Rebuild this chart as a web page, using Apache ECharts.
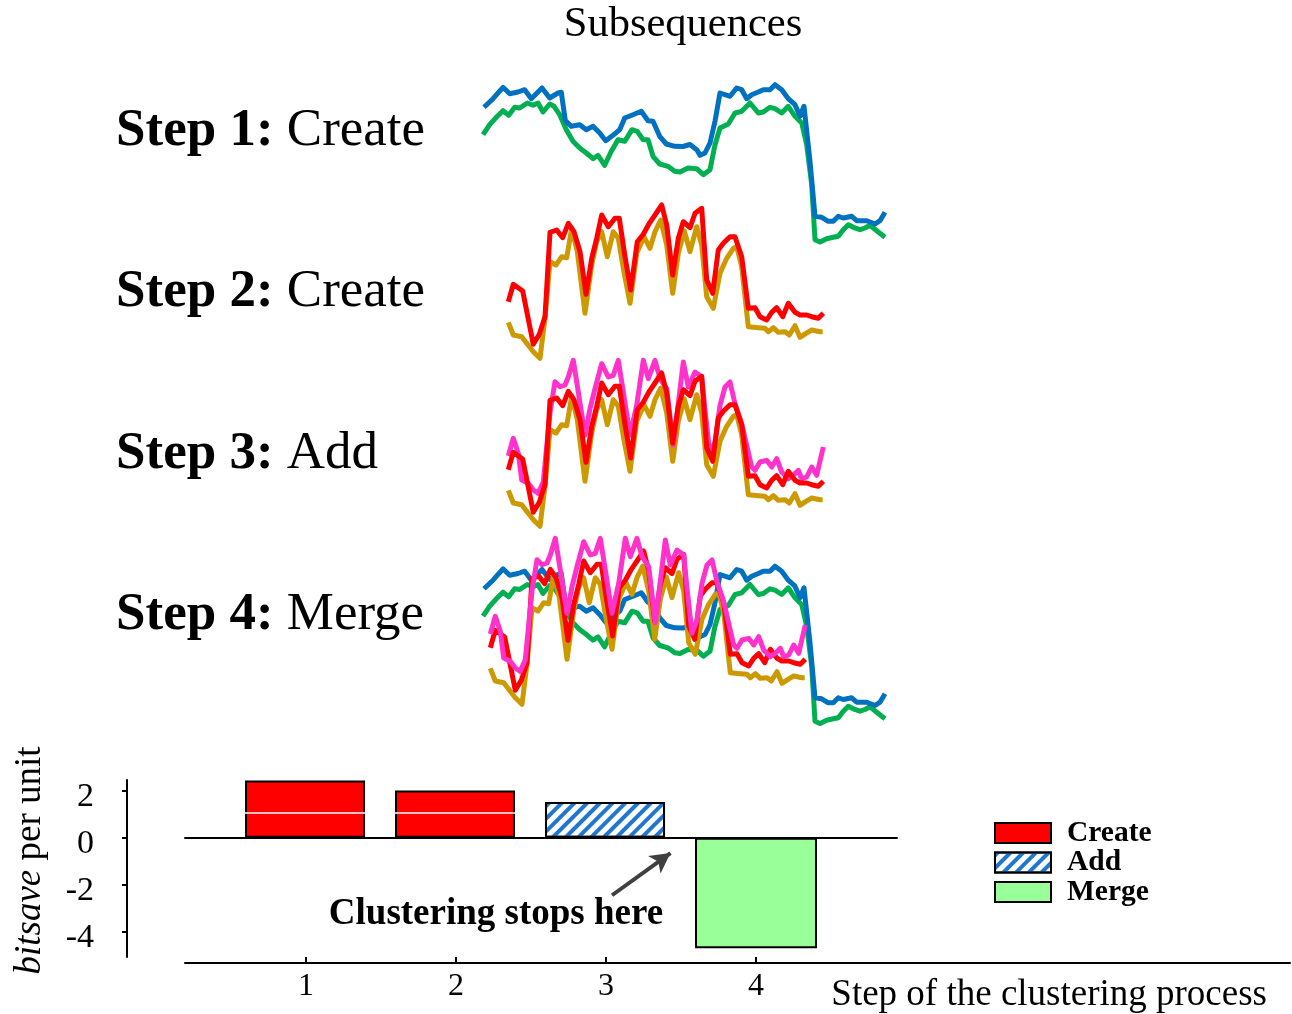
<!DOCTYPE html>
<html>
<head>
<meta charset="utf-8">
<script src="https://cdn.jsdelivr.net/npm/echarts@6/dist/echarts.min.js"></script>
<style>
  html, body { margin: 0; padding: 0; background: #ffffff; }
  #chart { width: 1292px; height: 1014px; }
</style>
</head>
<body>
<div id="chart"></div>
<script>
const SERIF = '"Liberation Serif", "Times New Roman", serif';

// ---- Subsequence shapes: [sample position, amplitude] ----
const blueSeq = [[0,142.7],[9,151.3],[19,162.7],[25.7,156.3],[34,158],[40.7,160.3],[47.3,151.3],[58,162],[65.7,152],[74,157],[77.3,157.7],[81.3,129.3],[87.3,123.7],[95.7,125.3],[102.3,120.3],[109,123.7],[115.7,117],[121.7,109.3],[129,114.7],[135.7,120.3],[140.7,132],[149,135.3],[157.3,138.7],[164,129.3],[169,128.7],[175.7,113.7],[182.3,106],[190.7,103.7],[199,103.5],[206,105.5],[213,100],[216,94.7],[221,97],[226,107],[231,128.7],[236,157],[246,153.7],[252.7,162],[257.7,160.3],[262.7,151.3],[267.7,155.3],[274.3,158],[279.3,160.3],[286,160.3],[291,165.3],[297.7,160.3],[304.3,151.3],[311,145.3],[316,133.7],[320,143.7],[326,88.7],[331,33.7],[337.7,32.7],[344.3,28.7],[349.3,28.7],[354.3,33.7],[359.3,32],[367.7,33.7],[372.7,29.3],[382.7,29.3],[391,26],[396,29.3],[401,37.7]];

const greenSeq = [[-1,115.3],[5.7,125.3],[12.3,132.7],[19,139.3],[24.7,134.7],[30.7,142.7],[35.7,142],[43.3,147],[49,144.7],[54,147],[59,138],[65.7,146],[70,143.7],[75.7,135.3],[82.3,120.3],[89,108.7],[95.7,102],[102.3,97],[109,91.3],[114,94.7],[120.7,84.7],[127.3,98.7],[134,110.3],[140.7,108.7],[148,120.3],[153.3,118.7],[159,110.3],[164,110.3],[169,93.7],[175.7,86],[184,83.7],[190.7,78.7],[196,78],[204,82],[212.7,81.3],[219.3,75.3],[226,80.3],[231,105.3],[236,122],[244.3,126],[251,137],[257.7,138.7],[266,147],[274.3,137],[279.3,138],[286,142.7],[291,141.3],[297.7,137],[304.3,143.7],[311,133.7],[317.7,127],[322.7,105.3],[327.7,65.3],[331,10.3],[336,8],[342.7,11.3],[349.3,12.7],[354.3,13.7],[359.3,20.3],[364.3,25.3],[369.3,22.7],[376,20.3],[381,22],[386,24.7],[392.7,19.3],[401,12.7]];

const redSeq = [[0.3,58.3],[5.3,75.7],[14.7,69],[25.3,15.7],[31.3,25.7],[37,43.3],[42,127.7],[48.7,130],[54.7,122.3],[60.3,136.7],[66,128.3],[72,108.3],[78,65.7],[83.7,101.7],[88.7,121.7],[93.7,145],[100.3,133.3],[107,141.7],[111.3,141.7],[117,103.3],[122.7,70],[129.3,118.3],[135.3,125.7],[141.3,136.7],[147,145],[153.7,155],[158.7,135],[164.7,85],[170.3,121.7],[175.3,138.3],[182,132.3],[187,146.7],[193.7,151.7],[198.7,80],[204.7,66.7],[210.3,110],[215.3,116.7],[222,123.3],[227,123.3],[233.7,103.3],[240.3,51.7],[247,52.3],[252,43.3],[258.7,40],[263.7,47.7],[268.7,52.3],[274.7,43.3],[280.3,56.7],[287,47.7],[292,45],[298.7,45],[303.7,43.3],[310.3,41.7],[315.3,46.7]];

const goldSeq = [[0.3,37.7],[5.3,25],[13.7,23.3],[18.7,16.7],[25.3,8.3],[32,1.7],[37,41.7],[42,98.3],[48,95],[53.7,103.3],[58.7,102.3],[63.7,131.7],[69.3,108.3],[77,46.7],[83.7,95],[88.7,118.3],[93.7,128.3],[99.3,103.3],[105.3,128.3],[110.3,121.7],[115.3,91.7],[122,56.7],[128.7,106.7],[136,123.3],[142,111.7],[147,128.3],[152.7,140],[158.7,115],[164.7,66.7],[170.3,106.7],[176.3,129],[182,108.3],[188.7,133.3],[193.7,115],[198.7,63.3],[205.3,51.7],[212,86.7],[218.7,101.7],[225.3,111.7],[228.7,113.3],[233.7,93.3],[240.3,33.3],[250.3,32.3],[257,31.7],[260.3,28.3],[265.3,32.3],[270.3,27.7],[277,28.3],[281.3,25],[287,34.3],[292,22.7],[298,26.7],[303.7,30],[312,28.3],[314.7,28.3]];

const pinkSeq = [[0.3,72],[5.3,89.7],[10.3,74.7],[13.7,48],[20.3,44.7],[25.3,38],[30.3,34.7],[35.3,46.3],[42,115.3],[47,146.3],[52,141.3],[57,143],[60.3,151],[65.3,167.7],[70.3,136],[77,92.7],[82,119.3],[87,139.3],[93.7,164.3],[100.3,151],[105.3,152.7],[110.3,167.7],[115.3,136],[122,92.7],[128.7,122.7],[135.3,167.7],[140.3,149.3],[147,167.7],[152,149.3],[158.7,139.3],[165.3,83],[175.3,166],[180.3,141],[187,156],[193.7,151],[197,118],[202,72.7],[207,86],[212,122.7],[217,141],[222,146],[227,124.3],[233.7,104.3],[238.7,82.7],[243.7,61],[247,57.7],[252,66],[258.7,67.7],[263.7,61],[268.7,69.3],[273.7,56],[277,52.7],[280.3,49.3],[285.3,52.7],[290.3,57.7],[293.7,49.3],[298.7,51],[303.7,61],[308.7,52.7],[315.3,81]];

// ---- Step captions ----
const stepNumbers = ['Step 1:', 'Step 2:', 'Step 3:', 'Step 4:'];
const stepActions = ['Create', 'Create', 'Add', 'Merge'];

// ---- bitsave per unit for each clustering step ----
const stepIndex = [1, 2, 3, 4];
const bitsave = [2.43, 2.0, 1.52, -4.69];
const stepKind = ['Create', 'Create', 'Add', 'Merge'];
const axisTicksY = [-4, -2, 0, 2];

const COLORS = {
  blue: '#0070c0', green: '#00b050', red: '#ff0000', gold: '#cc9900', pink: '#ff33cc',
  create: '#ff0000', add: '#1f77d0', merge: '#99ff99'
};

function seqLine(name, data, color, xi, yi, z) {
  return {
    type: 'line', name, data, xAxisIndex: xi, yAxisIndex: yi,
    symbol: 'none', silent: true, clip: false, z,
    lineStyle: { color, width: 5, join: 'round' },
    itemStyle: { color }
  };
}

function barsOf(kind) {
  return stepIndex.map((s, i) => stepKind[i] === kind ? [s, bitsave[i]] : null).filter(Boolean);
}

function hiddenAxis(gridIndex, min, max) {
  return { type: 'value', show: false, gridIndex, min, max, scale: true };
}

const option = {
  backgroundColor: '#ffffff',
  animation: false,
  grid: [
    { left: 470, top: 60, width: 430, height: 200 },
    { left: 470, top: 195, width: 430, height: 200 },
    { left: 470, top: 355, width: 430, height: 200 },
    { left: 470, top: 530, width: 430, height: 210 },
    { left: 185, top: 780, width: 712, height: 177 },
    { left: 185, top: 780, width: 1105, height: 183 }
  ],
  xAxis: [
    hiddenAxis(0, -14, 416),
    hiddenAxis(1, -38, 392),
    hiddenAxis(2, -38, 392),
    hiddenAxis(3, -14, 416),
    hiddenAxis(3, -20, 410),
    {
      type: 'value', gridIndex: 4, min: 0.193, max: 4.94,
      axisLine: { show: true, onZero: true, lineStyle: { color: '#000', width: 2 } },
      axisTick: { show: false }, axisLabel: { show: false }, splitLine: { show: false }
    },
    {
      type: 'value', gridIndex: 5, min: 0.193, max: 7.56, position: 'bottom',
      axisLine: { show: true, onZero: false, lineStyle: { color: '#000', width: 2 } },
      axisTick: { show: true, inside: true, length: 6, customValues: stepIndex, lineStyle: { color: '#000', width: 2 } },
      axisLabel: { customValues: stepIndex, fontSize: 32, fontFamily: SERIF, color: '#000', margin: 8 },
      splitLine: { show: false },
      name: 'Step of the clustering process', nameLocation: 'end', nameGap: -23,
      nameTextStyle: { fontSize: 37, fontFamily: SERIF, color: '#000', align: 'right', verticalAlign: 'top', padding: [14, 0, 0, 0] }
    }
  ],
  yAxis: [
    hiddenAxis(0, -10, 190),
    hiddenAxis(1, -35, 165),
    hiddenAxis(2, -27, 173),
    hiddenAxis(3, -8.5, 201.5),
    hiddenAxis(3, -34, 176),
    {
      type: 'value', gridIndex: 4, min: -5.06, max: 2.45, position: 'left', offset: 58,
      axisLine: { show: true, onZero: false, lineStyle: { color: '#000', width: 2 } },
      axisTick: { show: true, length: 5, customValues: axisTicksY, lineStyle: { color: '#000', width: 2 } },
      axisLabel: {
        customValues: axisTicksY, margin: 33,
        formatter: (v) => '{v|' + v + '}',
        rich: { v: { fontSize: 34, fontFamily: SERIF, color: '#000', padding: [13, 0, 0, 0] } }
      },
      splitLine: { show: false },
      name: '{i|bitsave} per unit', nameLocation: 'middle', nameGap: 78,
      nameTextStyle: {
        fontSize: 37, fontFamily: SERIF, color: '#000', padding: [0, 0, 0, 16],
        rich: { i: { fontSize: 37, fontFamily: SERIF, fontStyle: 'italic', color: '#000' } }
      }
    },
    { type: 'value', gridIndex: 5, show: false, min: 0, max: 1 }
  ],
  legend: {
    data: ['Create', 'Add', 'Merge'],
    orient: 'vertical', left: 994, top: 818, padding: 0,
    itemWidth: 56, itemHeight: 20, itemGap: -0.5, icon: 'rect',
    selectedMode: false,
    textStyle: { fontFamily: SERIF, fontWeight: 'bold', fontSize: 29.5, color: '#000', padding: [0, 0, 0, 11] }
  },
  graphic: [
    {
      type: 'text', x: 683, y: 25, silent: true,
      style: { text: 'Subsequences', align: 'center', verticalAlign: 'middle', fontSize: 42.5, fontFamily: SERIF, fill: '#000' }
    },
    ...stepNumbers.map((s, k) => ({
      type: 'text', x: 116, y: 131 + 161.5 * k, silent: true,
      style: {
        text: '{b|' + s + '} ' + stepActions[k], verticalAlign: 'middle', align: 'left',
        fontSize: 53, fontFamily: SERIF, fill: '#000',
        rich: { b: { fontSize: 53, fontFamily: SERIF, fontWeight: 'bold', fill: '#000' } }
      }
    })),
    {
      type: 'text', x: 496, y: 914, silent: true,
      style: { text: 'Clustering stops here', align: 'center', verticalAlign: 'middle', fontSize: 37, fontWeight: 'bold', fontFamily: SERIF, fill: '#000' }
    }
  ],
  series: [
    // Step 1: Create
    seqLine('s1-green', greenSeq, COLORS.green, 0, 0, 2),
    seqLine('s1-blue', blueSeq, COLORS.blue, 0, 0, 3),
    // Step 2: Create
    seqLine('s2-gold', goldSeq, COLORS.gold, 1, 1, 2),
    seqLine('s2-red', redSeq, COLORS.red, 1, 1, 3),
    // Step 3: Add
    seqLine('s3-gold', goldSeq, COLORS.gold, 2, 2, 2),
    seqLine('s3-pink', pinkSeq, COLORS.pink, 2, 2, 3),
    seqLine('s3-red', redSeq, COLORS.red, 2, 2, 4),
    // Step 4: Merge
    seqLine('s4-green', greenSeq, COLORS.green, 3, 3, 2),
    seqLine('s4-blue', blueSeq, COLORS.blue, 3, 3, 2),
    seqLine('s4-gold', goldSeq, COLORS.gold, 4, 4, 3),
    seqLine('s4-red', redSeq, COLORS.red, 4, 4, 3),
    seqLine('s4-pink', pinkSeq, COLORS.pink, 4, 4, 4),
    // bitsave bars
    {
      type: 'bar', name: 'Create', xAxisIndex: 5, yAxisIndex: 5, data: barsOf('Create'),
      barWidth: 120, barGap: '-100%', z: 2,
      itemStyle: { color: COLORS.create, borderColor: '#000', borderWidth: 2 },
      markLine: {
        silent: true, symbol: 'none', label: { show: false }, z: 3,
        lineStyle: { color: '#ffffff', width: 1.5, type: 'solid' },
        data: [{ yAxis: 1.08 }]
      }
    },
    {
      type: 'bar', name: 'Add', xAxisIndex: 5, yAxisIndex: 5, data: barsOf('Add'),
      barWidth: 120, barGap: '-100%', z: 6,
      itemStyle: {
        color: '#ffffff', borderColor: '#000', borderWidth: 2,
        decal: { symbol: 'rect', symbolSize: 1, dashArrayX: [1, 0], dashArrayY: [4, 5], rotation: -Math.PI / 4, color: COLORS.add }
      }
    },
    {
      type: 'bar', name: 'Merge', xAxisIndex: 5, yAxisIndex: 5, data: barsOf('Merge'),
      barWidth: 122, barGap: '-100%', z: 2,
      itemStyle: { color: COLORS.merge, borderColor: '#000', borderWidth: 2 },
      markLine: {
        silent: true, symbol: ['none', 'arrow'], symbolSize: [16, 20], label: { show: false },
        lineStyle: { color: '#404040', width: 4, type: 'solid' },
        data: [[{ coord: [3.04, -2.44] }, { coord: [3.43, -0.65] }]]
      }
    }
  ]
};

const chart = echarts.init(document.getElementById('chart'), null, { renderer: 'canvas' });
chart.setOption(option);
</script>
</body>
</html>
